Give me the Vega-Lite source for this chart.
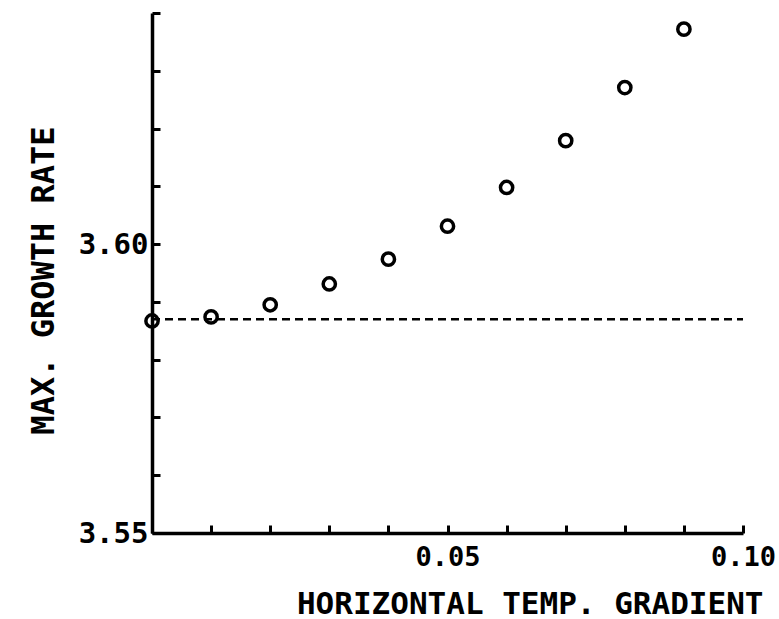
{
  "$schema": "https://vega.github.io/schema/vega-lite/v6.json",
  "width": 591,
  "height": 520,
  "autosize": "none",
  "padding": {"left": 152, "top": 13, "right": 36, "bottom": 86},
  "background": "white",
  "config": {
    "view": {"stroke": null},
    "font": "DejaVu Sans Mono"
  },
  "datasets": {
    "pts": [
      {"g": 0.00, "r": 3.5867},
      {"g": 0.01, "r": 3.5874},
      {"g": 0.02, "r": 3.5895},
      {"g": 0.03, "r": 3.5931},
      {"g": 0.04, "r": 3.5974},
      {"g": 0.05, "r": 3.6031},
      {"g": 0.06, "r": 3.6098},
      {"g": 0.07, "r": 3.6179},
      {"g": 0.08, "r": 3.6271},
      {"g": 0.09, "r": 3.6372}
    ],
    "ref": [
      {"g": 0.0, "g2": 0.1, "r": 3.587}
    ]
  },
  "layer": [
    {
      "data": {"name": "ref"},
      "mark": {"type": "rule", "color": "black", "strokeWidth": 2.5, "strokeDash": [8, 5]},
      "encoding": {
        "x": {"field": "g", "type": "quantitative", "scale": {"domain": [0, 0.1]}},
        "x2": {"field": "g2"},
        "y": {"field": "r", "type": "quantitative", "scale": {"domain": [3.55, 3.64]}}
      }
    },
    {
      "data": {"name": "pts"},
      "mark": {"type": "point", "shape": "circle", "filled": false, "color": "black", "strokeWidth": 3.5, "size": 150, "opacity": 1},
      "encoding": {
        "x": {
          "field": "g", "type": "quantitative",
          "scale": {"domain": [0, 0.1], "nice": false, "zero": false},
          "axis": {
            "values": [0, 0.01, 0.02, 0.03, 0.04, 0.05, 0.06, 0.07, 0.08, 0.09, 0.1],
            "labelExpr": "abs(datum.value-0.05)<1e-6 || abs(datum.value-0.1)<1e-6 ? format(datum.value,'.2f') : ''",
            "grid": false,
            "domainColor": "black", "domainWidth": 3.5,
            "tickColor": "black", "tickWidth": 3, "tickSize": -8,
            "labelFont": "DejaVu Sans Mono", "labelFontSize": 27, "labelFontWeight": "bold", "labelColor": "black",
            "labelPadding": 19, "labelFlush": false, "labelOverlap": false,
            "title": "HORIZONTAL TEMP. GRADIENT",
            "titleFont": "DejaVu Sans Mono", "titleFontSize": 31, "titleFontWeight": "bold", "titleColor": "black",
            "titleAnchor": null, "titleAlign": "right", "titleBaseline": "alphabetic",
            "titleX": 611, "titleY": 80
          }
        },
        "y": {
          "field": "r", "type": "quantitative",
          "scale": {"domain": [3.55, 3.64], "nice": false, "zero": false},
          "axis": {
            "values": [3.55, 3.56, 3.57, 3.58, 3.59, 3.6, 3.61, 3.62, 3.63, 3.64],
            "labelExpr": "abs(datum.value-3.55)<1e-6 || abs(datum.value-3.6)<1e-6 ? format(datum.value,'.2f') : ''",
            "grid": false,
            "domainColor": "black", "domainWidth": 3.5,
            "tickColor": "black", "tickWidth": 3, "tickSize": -8,
            "labelFont": "DejaVu Sans Mono", "labelFontSize": 29, "labelFontWeight": "bold", "labelColor": "black",
            "labelPadding": 12, "labelFlush": false, "labelOverlap": false,
            "title": "MAX. GROWTH RATE",
            "titleFont": "DejaVu Sans Mono", "titleFontSize": 32, "titleFontWeight": "bold", "titleColor": "black",
            "titleAnchor": null, "titleAlign": "center", "titleBaseline": "alphabetic", "titleAngle": -90,
            "titleX": -99, "titleY": 267
          }
        }
      }
    }
  ]
}
